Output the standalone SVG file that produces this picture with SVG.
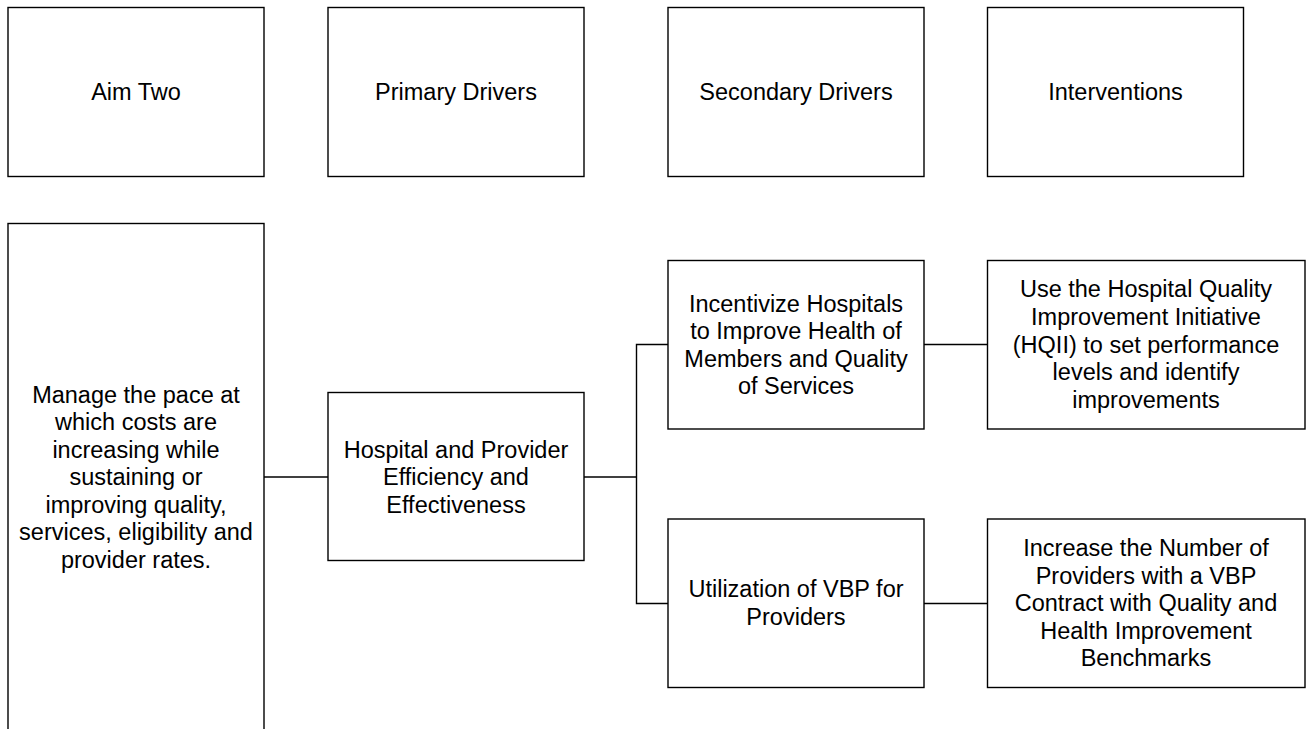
<svg xmlns="http://www.w3.org/2000/svg" width="1306" height="729" viewBox="0 0 1306 729">
<style>
.box{fill:#fff;stroke:#000;stroke-width:1.4}
.conn{fill:none;stroke:#000;stroke-width:1.4}
text{font-family:"Liberation Sans",Arial,sans-serif;font-size:23.5px;fill:#000;text-anchor:middle}
</style>
<rect width="1306" height="729" fill="#fff"/>
<g id="connectors">
<line class="conn" x1="264" y1="477" x2="328" y2="477"/>
<line class="conn" x1="584" y1="477" x2="636.5" y2="477"/>
<polyline class="conn" points="668,344.5 636.5,344.5 636.5,603.5 668,603.5"/>
<line class="conn" x1="924" y1="344.5" x2="987" y2="344.5"/>
<line class="conn" x1="924" y1="603.5" x2="987" y2="603.5"/>
</g>
<g id="aim-two-header">
<rect class="box" x="8" y="7.5" width="256" height="169"/>
<text x="136" y="100">Aim Two</text>
</g>
<g id="primary-header">
<rect class="box" x="328" y="7.5" width="256" height="169"/>
<text x="456" y="100">Primary Drivers</text>
</g>
<g id="secondary-header">
<rect class="box" x="668" y="7.5" width="256" height="169"/>
<text x="796" y="100">Secondary Drivers</text>
</g>
<g id="interventions-header">
<rect class="box" x="987.5" y="7.5" width="256" height="169"/>
<text x="1115.5" y="100">Interventions</text>
</g>
<g id="aim">
<rect class="box" x="8" y="223.5" width="256" height="508"/>
<text x="136" y="402.5">Manage the pace at</text>
<text x="136" y="430">which costs are</text>
<text x="136" y="457.5">increasing while</text>
<text x="136" y="485">sustaining or</text>
<text x="136" y="512.5">improving quality,</text>
<text x="136" y="540">services, eligibility and</text>
<text x="136" y="567.5">provider rates.</text>
</g>
<g id="primary">
<rect class="box" x="328" y="392.5" width="256" height="168"/>
<text x="456" y="457.5">Hospital and Provider</text>
<text x="456" y="485">Efficiency and</text>
<text x="456" y="512.5">Effectiveness</text>
</g>
<g id="secondary1">
<rect class="box" x="668" y="260.5" width="256" height="168.5"/>
<text x="796" y="311.5">Incentivize Hospitals</text>
<text x="796" y="339">to Improve Health of</text>
<text x="796" y="366.5">Members and Quality</text>
<text x="796" y="394">of Services</text>
</g>
<g id="secondary2">
<rect class="box" x="668" y="519" width="256" height="168.5"/>
<text x="796" y="597">Utilization of VBP for</text>
<text x="796" y="624.5">Providers</text>
</g>
<g id="intervention1">
<rect class="box" x="987.5" y="260.5" width="317.5" height="168.5"/>
<text x="1146" y="297">Use the Hospital Quality</text>
<text x="1146" y="324.5">Improvement Initiative</text>
<text x="1146" y="352.5">(HQII) to set performance</text>
<text x="1146" y="380">levels and identify</text>
<text x="1146" y="407.5">improvements</text>
</g>
<g id="intervention2">
<rect class="box" x="987.5" y="519" width="317.5" height="168.5"/>
<text x="1146" y="556">Increase the Number of</text>
<text x="1146" y="583.5">Providers with a VBP</text>
<text x="1146" y="611">Contract with Quality and</text>
<text x="1146" y="638.5">Health Improvement</text>
<text x="1146" y="666">Benchmarks</text>
</g>
</svg>
